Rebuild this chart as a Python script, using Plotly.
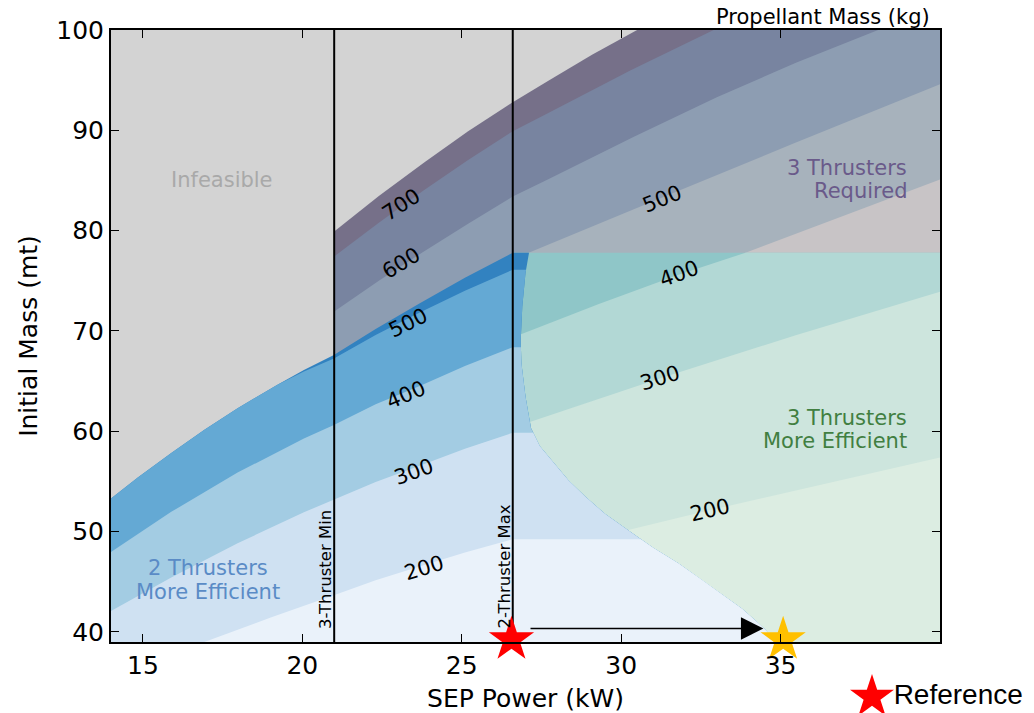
import numpy as np
import plotly.graph_objects as go

# ---------------- data ----------------
X_RANGE = [14, 40]
Y_RANGE = [39, 100]
three_min_kw = 21.0          # 3-Thruster Min
two_max_kw = 26.6            # 2-Thruster Max
two_cap_mt = 77.8            # upper mass limit of 2-thruster region

# 2-thruster feasibility boundary and propellant contours (kg)
f2_kw = [14.0, 14.84, 15.89, 16.93, 17.97, 19.22, 20.05, 20.99, 22.3, 23.7, 25.1, 26.6]
f2_mt = [53.3, 55.4, 57.85, 60.15, 62.3, 64.65, 66.1, 67.6, 70.2, 72.8, 75.3, 77.8]
c2_500_kw = [19.22, 20.05, 20.99, 22.3, 23.7, 25.1, 26.6]
c2_500_mt = [64.65, 65.95, 67.25, 69.6, 71.87, 74.0, 76.1]
c2_400_kw = [14.0, 15.89, 17.97, 20.05, 20.99, 22.3, 23.7, 25.1, 26.6]
c2_400_mt = [47.98, 51.97, 55.89, 59.28, 60.63, 62.7, 64.55, 66.5, 68.38]
c2_300_kw = [14.0, 15.89, 17.97, 20.05, 20.99, 22.3, 23.7, 25.1, 26.6]
c2_300_mt = [42.1, 45.44, 48.84, 51.93, 53.21, 54.95, 56.6, 58.25, 59.86]
c2_200_kw = [16.93, 19.01, 20.99, 22.3, 23.7, 25.1, 26.6]
c2_200_mt = [39.0, 41.43, 43.66, 45.15, 46.56, 47.93, 49.25]

# 3-thruster feasibility boundary and propellant contours (kg)
f3_kw = [21.0, 22.4, 23.8, 25.2, 26.6, 27.73, 29.1, 30.5]
f3_mt = [79.92, 83.45, 86.75, 89.9, 92.8, 94.96, 97.55, 100.0]
c3_700_kw = [21.0, 22.4, 23.8, 25.2, 26.6, 27.73, 30.3, 32.9]
c3_700_mt = [77.43, 80.8, 84.0, 87.05, 89.9, 91.74, 96.0, 100.0]
c3_600_kw = [21.0, 22.4, 23.8, 25.2, 26.6, 27.73, 30.4, 33.0, 35.5, 38.06]
c3_600_mt = [71.94, 75.0, 77.9, 80.7, 83.4, 85.15, 89.35, 93.3, 96.75, 100.0]
c3_500_kw = [21.0, 24.0, 27.1, 31.27, 35.5, 40.0]
c3_500_mt = [66.8, 72.6, 77.8, 83.27, 88.8, 94.6]
c3_400_kw = [26.8, 29.3, 31.8, 33.9, 37.0, 40.0]
c3_400_mt = [69.6, 72.7, 75.6, 77.8, 81.5, 85.1]
c3_300_kw = [27.16, 31.23, 35.5, 40.0]
c3_300_mt = [60.96, 65.29, 69.6, 73.9]
c3_200_kw = [30.19, 32.8, 36.5, 40.0]
c3_200_mt = [50.15, 52.15, 54.85, 57.4]

# boundary where 3 thrusters become more efficient
edge_kw = [27.11, 27.0, 26.90, 26.85, 26.87, 27.0, 27.17, 27.45, 27.89, 28.35, 28.88, 29.5,
           30.24, 31.0, 31.80, 32.55, 33.27, 33.8, 34.20, 34.5, 34.85]
edge_mt = [77.8, 75.77, 72.43, 69.11, 66.82, 63.45, 60.33, 58.5, 56.84, 55.1, 53.47, 51.75,
           50.08, 48.4, 46.83, 45.15, 43.49, 42.3, 41.17, 40.3, 39.0]

# colours
bg_grey = "#d3d3d3"
purple_cols = ["#767089", "#7884a0", "#8d9db2", "#a7b2bc", "#c8c4c6"]
green_cols = ["#8fc6c8", "#b2d8d5", "#cde5dd", "#dcede2"]
blue_cols = ["#3282c0", "#64a9d4", "#a3cce3", "#cfe1f2", "#eaf2fa"]

# contour labels
lab2_text = ["500", "400", "300", "200"]
lab2_kw = [23.32, 23.25, 23.49, 23.82]
lab2_mt = [70.84, 63.62, 55.9, 46.39]
lab2_ang = [-26, -23, -20, -17]
lab3_text = ["700", "600", "500", "400", "300", "200"]
lab3_kw = [23.09, 23.11, 31.28, 31.8, 31.23, 32.8]
lab3_mt = [82.6, 76.8, 83.18, 75.7, 65.29, 52.15]
lab3_ang = [-33, -31, -22, -20, -17, -13]

# region labels (one entry per text line)
region_text = ["Infeasible", "3 Thrusters", "Required", "3 Thrusters", "More Efficient",
               "2 Thrusters", "More Efficient"]
region_kw = [17.48, 39.04, 39.04, 39.04, 39.04, 17.03, 17.03]
region_mt = [85.06, 86.28, 83.98, 61.33, 59.03, 46.36, 43.96]
region_anchor = ["center", "right", "right", "right", "right", "center", "center"]
region_color = ["#a9a9a9", "#6a5a8a", "#6a5a8a", "#417f41", "#417f41", "#5a8bc6", "#5a8bc6"]

ref_kw, ref_mt = 26.56, 39.24
opt_kw, opt_mt = 35.08, 39.24
arrow_start_kw, arrow_end_kw, arrow_mt = 27.11, 34.46, 40.34
legend_label = "Reference"

FONT = "DejaVu Sans"
y0 = Y_RANGE[0]

# page geometry (pixels)
W, H = 1034, 713
M_L, M_R, M_T, M_B = 111, 94, 30, 71
area_h = H - M_T                       # plot area incl. the band below the main axes
main_dom = [M_B / area_h, 1.0]


def below(xs, ys, x_end=X_RANGE[1]):
    xs = list(xs); ys = list(ys)
    px = [xs[0]] + xs
    py = [y0] + ys
    if xs[-1] < x_end:
        px.append(x_end); py.append(ys[-1])
    px += [x_end, xs[0]]
    py += [y0, y0]
    return px, py


ekw = np.array(edge_kw); emt = np.array(edge_mt)


def blue_below(xs, ys):
    xs = list(xs); ys = list(ys)
    top = ys[-1]
    gx = float(np.interp(top, emt[::-1], ekw[::-1]))
    m = emt < top
    px = [xs[0]] + xs + [gx] + list(ekw[m]) + [xs[0]]
    py = [y0] + ys + [top] + list(emt[m]) + [y0]
    return px, py


fig = go.Figure()


def add_poly(px, py, col):
    fig.add_trace(go.Scatter(x=px, y=py, mode="lines", fill="toself",
                             fillcolor=col, line=dict(width=0, color=col),
                             hoverinfo="skip", showlegend=False))


# infeasible background
add_poly([X_RANGE[0], X_RANGE[1], X_RANGE[1], X_RANGE[0], X_RANGE[0]],
         [Y_RANGE[0], Y_RANGE[0], Y_RANGE[1], Y_RANGE[1], Y_RANGE[0]], bg_grey)

# purple (3 thrusters) bands
for (xs, ys), col in zip([(f3_kw, f3_mt), (c3_700_kw, c3_700_mt), (c3_600_kw, c3_600_mt),
                          (c3_500_kw, c3_500_mt), (c3_400_kw, c3_400_mt)], purple_cols):
    add_poly(*below(xs, ys), col)

# green (3 thrusters more efficient) bands, below the 2-thruster cap
add_poly(*below([two_max_kw, X_RANGE[1]], [two_cap_mt, two_cap_mt]), green_cols[0])
for (xs, ys), col in zip([(c3_400_kw, c3_400_mt), (c3_300_kw, c3_300_mt),
                          (c3_200_kw, c3_200_mt)], green_cols[1:]):
    add_poly(*below(xs, list(np.minimum(ys, two_cap_mt))), col)

# blue (2 thrusters) bands
b500_kw = [k for k in f2_kw if k < c2_500_kw[0]] + c2_500_kw
b500_mt = [m for k, m in zip(f2_kw, f2_mt) if k < c2_500_kw[0]] + c2_500_mt
for (xs, ys), col in zip([(f2_kw, f2_mt), (b500_kw, b500_mt), (c2_400_kw, c2_400_mt),
                          (c2_300_kw, c2_300_mt), (c2_200_kw, c2_200_mt)], blue_cols):
    add_poly(*blue_below(xs, ys), col)

# thruster limit lines
for xv in [three_min_kw, two_max_kw]:
    fig.add_trace(go.Scatter(x=[xv, xv], y=Y_RANGE, mode="lines",
                             line=dict(color="black", width=2),
                             hoverinfo="skip", showlegend=False))

# stars
fig.add_trace(go.Scatter(x=[ref_kw], y=[ref_mt], mode="markers", cliponaxis=False,
                         marker=dict(symbol="star", size=34, color="#ff0000", line=dict(width=0)),
                         showlegend=False, hoverinfo="skip"))
fig.add_trace(go.Scatter(x=[opt_kw], y=[opt_mt], mode="markers", cliponaxis=False,
                         marker=dict(symbol="star", size=34, color="#ffc000", line=dict(width=0)),
                         showlegend=False, hoverinfo="skip"))

# legend key on an invisible full-area overlay axis (pixel fractions)
fig.add_trace(go.Scatter(x=[(872 - M_L) / (W - M_L - M_R)], y=[(H - 697) / area_h],
                         xaxis="x2", yaxis="y2", mode="markers+text", cliponaxis=False,
                         marker=dict(symbol="star", size=33, color="#ff0000", line=dict(width=0)),
                         text=[legend_label], textposition="middle right",
                         textfont=dict(family="Liberation Sans", size=28, color="black"),
                         showlegend=False, hoverinfo="skip"))

ann = []
for t, x, y, a in zip(lab2_text + lab3_text, lab2_kw + lab3_kw, lab2_mt + lab3_mt, lab2_ang + lab3_ang):
    ann.append(dict(x=x, y=y, text=t, textangle=a, showarrow=False,
                    font=dict(family=FONT, size=21, color="black")))

for t, x, y, xa, c in zip(region_text, region_kw, region_mt, region_anchor, region_color):
    ann.append(dict(x=x, y=y, text=t, showarrow=False, xanchor=xa, yanchor="middle",
                    font=dict(family=FONT, size=21, color=c)))

ann += [
    dict(x=20.72, y=46.2, text="3-Thruster Min", textangle=-90, showarrow=False,
         font=dict(family=FONT, size=16.5, color="black")),
    dict(x=26.35, y=46.5, text="2-Thruster Max", textangle=-90, showarrow=False,
         font=dict(family=FONT, size=16.5, color="black")),
    dict(x=0.859, y=(H - 17) / area_h, xref="paper", yref="paper", text="Propellant Mass (kg)",
         xanchor="center", yanchor="middle",
         showarrow=False, font=dict(family=FONT, size=21, color="black")),
    dict(x=arrow_end_kw, y=arrow_mt, ax=arrow_start_kw, ay=arrow_mt, axref="x", ayref="y",
         text="", showarrow=True, arrowhead=2, arrowsize=2.8, arrowwidth=1.6,
         arrowcolor="black", standoff=0, startstandoff=0),
]

axis_common = dict(showgrid=False, zeroline=False, showline=True, linecolor="black",
                   linewidth=2, mirror="ticks", ticks="inside", ticklen=8, tickwidth=1.2,
                   tickcolor="black", automargin=False, layer="above traces",
                   tickfont=dict(family=FONT, size=25, color="black"))

fig.update_layout(
    width=W, height=H, autosize=False,
    margin=dict(l=M_L, r=M_R, t=M_T, b=0),
    plot_bgcolor="rgba(0,0,0,0)", paper_bgcolor="white",
    font=dict(family=FONT, color="black"),
    xaxis=dict(range=X_RANGE, tickvals=[15, 20, 25, 30, 35], anchor="y",
               title=dict(text="SEP Power (kW)", font=dict(family=FONT, size=25), standoff=12),
               **axis_common),
    yaxis=dict(range=Y_RANGE, tickvals=[40, 50, 60, 70, 80, 90, 100], domain=main_dom, anchor="x",
               title=dict(text="Initial Mass (mt)", font=dict(family=FONT, size=25), standoff=12),
               **axis_common),
    xaxis2=dict(range=[0, 1], domain=[0, 1], anchor="y2", visible=False, fixedrange=True),
    yaxis2=dict(range=[0, 1], domain=[0, 1], anchor="x2", visible=False, fixedrange=True),
    annotations=ann,
    showlegend=False,
)

fig.write_html("out.html")
